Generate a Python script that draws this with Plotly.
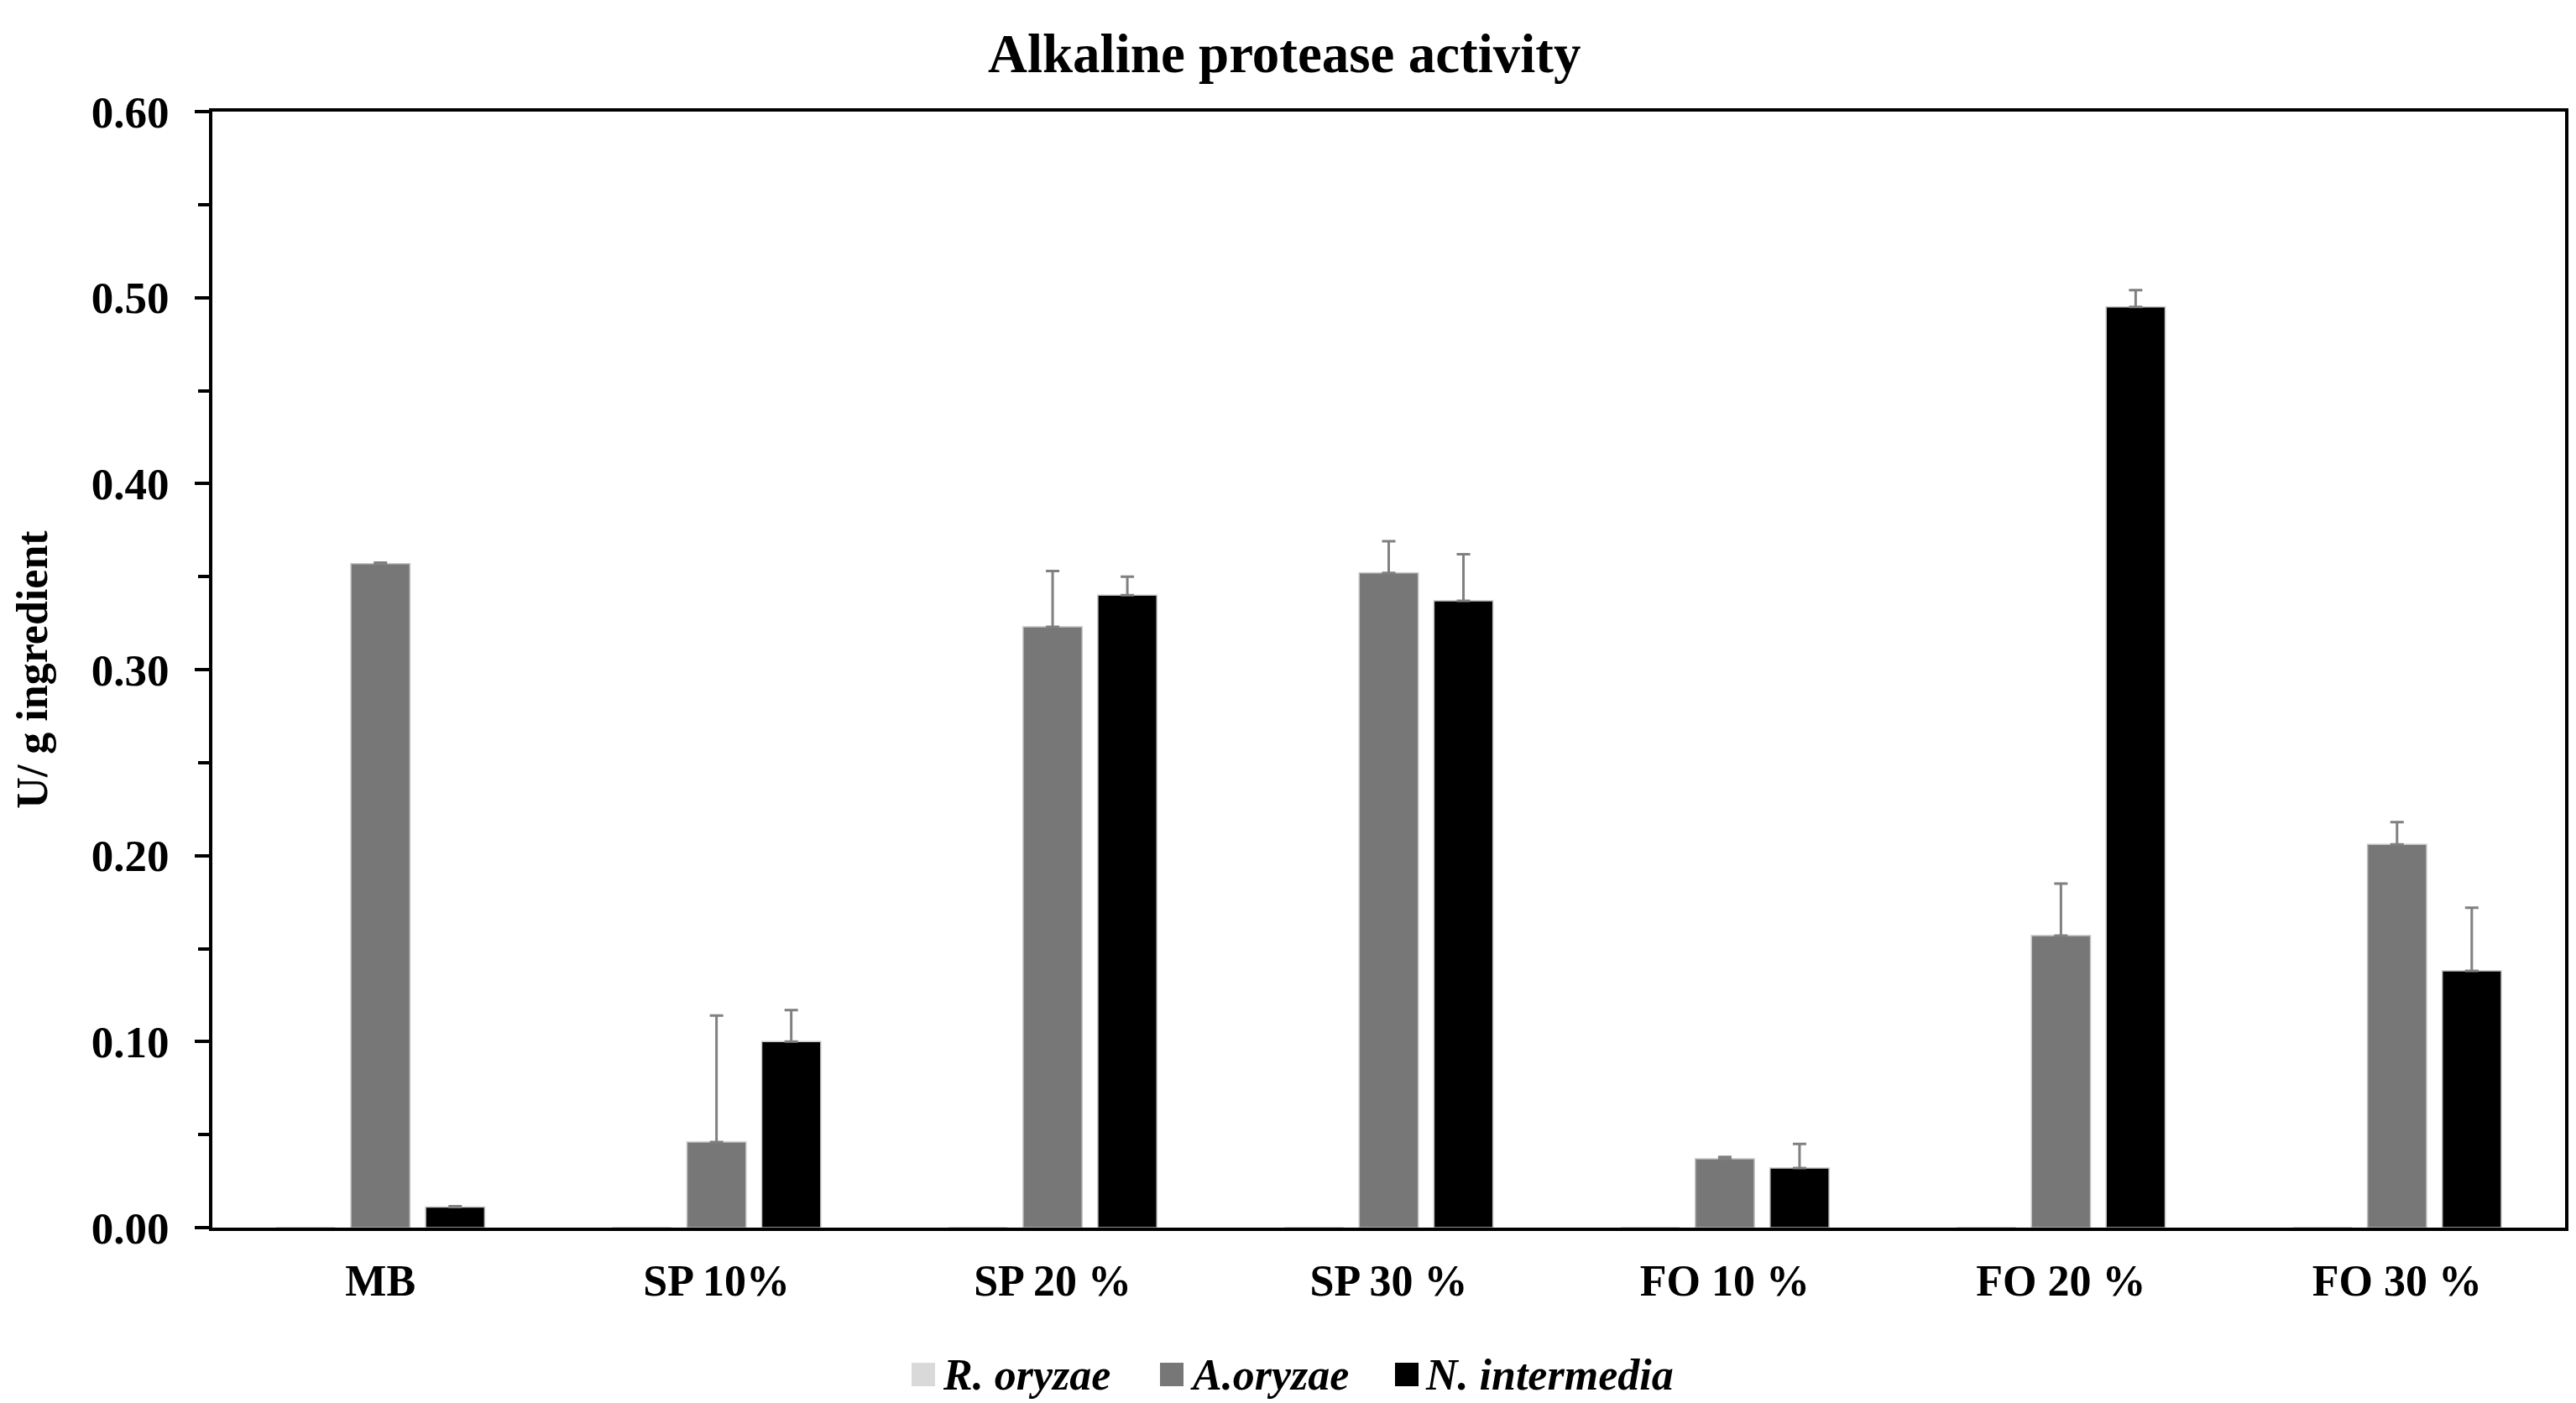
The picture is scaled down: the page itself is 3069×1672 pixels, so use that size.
import plotly.graph_objects as go

# Categories and series
categories = ['MB', 'SP 10%', 'SP 20 %', 'SP 30 %', 'FO 10 %', 'FO 20 %', 'FO 30 %']
series_names = ['R. oryzae', 'A.oryzae', 'N. intermedia']
series_colors = ['#d9d9d9', '#777777', '#000000']

# Activity values (U/ g ingredient)
r_oryzae = [0, 0, 0, 0, 0, 0, 0]
a_oryzae = [0.357, 0.046, 0.323, 0.352, 0.037, 0.157, 0.206]
n_intermedia = [0.011, 0.100, 0.340, 0.337, 0.032, 0.495, 0.138]

# Upper error bars
r_oryzae_err = [0, 0, 0, 0, 0, 0, 0]
a_oryzae_err = [0.0005, 0.068, 0.030, 0.017, 0.001, 0.028, 0.012]
n_intermedia_err = [0.0005, 0.017, 0.010, 0.025, 0.013, 0.009, 0.034]

y_tick_vals = [0.0, 0.1, 0.2, 0.3, 0.4, 0.5, 0.6]

FONT = 'Liberation Serif'

fig = go.Figure()

values = [r_oryzae, a_oryzae, n_intermedia]
errors = [r_oryzae_err, a_oryzae_err, n_intermedia_err]

for name, color, vals, errs in zip(series_names, series_colors, values, errors):
    fig.add_trace(
        go.Bar(
            x=categories,
            y=vals,
            name=name,
            marker=dict(color=color, line=dict(color='#c4c4c4', width=1.5)),
            error_y=dict(
                type='data',
                array=errs,
                symmetric=False,
                arrayminus=[0] * len(errs),
                color='#808080',
                thickness=3,
                width=8,
                visible=any(e > 0 for e in errs),
            ),
            showlegend=False,
        )
    )

# Manual legend (larger swatches than plotly's built-in legend)
plot_left, plot_right = 245, 3048
plot_w = plot_right - plot_left
legend_swatch_px = [1092, 1388, 1668]
legend_text_px = [1113, 1408, 1688]
legend_y = -0.1316

for name, color, sx, tx in zip(series_names, series_colors, legend_swatch_px, legend_text_px):
    fig.add_shape(
        type='rect',
        xref='paper', yref='paper',
        xsizemode='pixel', ysizemode='pixel',
        xanchor=(sx - plot_left) / plot_w, yanchor=legend_y,
        x0=-14, x1=14, y0=-14, y1=14,
        fillcolor=color, line=dict(width=0),
    )
    fig.add_annotation(
        text=name,
        xref='paper', yref='paper',
        x=(tx - plot_left) / plot_w, y=legend_y,
        xanchor='left', yanchor='middle',
        showarrow=False,
        font=dict(family=FONT, size=52, color='black', weight='bold', style='italic'),
    )

fig.update_layout(
    width=3069,
    height=1672,
    margin=dict(l=plot_left, r=3069 - plot_right, t=125, b=217),
    paper_bgcolor='white',
    plot_bgcolor='white',
    barmode='group',
    bargap=0.333,
    bargroupgap=0.21,
    title=dict(
        text='Alkaline protease activity',
        xref='container', x=0.496,
        yref='container', y=1 - 55 / 1672,
        xanchor='center', yanchor='middle',
        font=dict(family=FONT, size=65, color='black', weight='bold'),
    ),
    font=dict(family=FONT, color='black'),
)

fig.update_xaxes(
    showline=True,
    linecolor='black',
    linewidth=4,
    mirror=True,
    ticks='',
    showgrid=False,
    tickfont=dict(family=FONT, size=52, color='black', weight='bold'),
    ticklabelstandoff=15,
)

fig.update_yaxes(
    range=[0, 0.6],
    tickvals=y_tick_vals,
    tickformat='.2f',
    showline=True,
    linecolor='black',
    linewidth=4,
    mirror=True,
    ticks='outside',
    ticklen=17,
    tickwidth=4,
    tickcolor='black',
    minor=dict(dtick=0.05, ticks='outside', ticklen=13, tickwidth=4, tickcolor='black'),
    showgrid=False,
    zeroline=False,
    tickfont=dict(family=FONT, size=53, color='black', weight='bold'),
    ticklabelstandoff=20,
    title=dict(
        text='U/ g ingredient',
        font=dict(family=FONT, size=52, color='black', weight='bold'),
        standoff=36,
    ),
)

fig.write_html('out.html')
